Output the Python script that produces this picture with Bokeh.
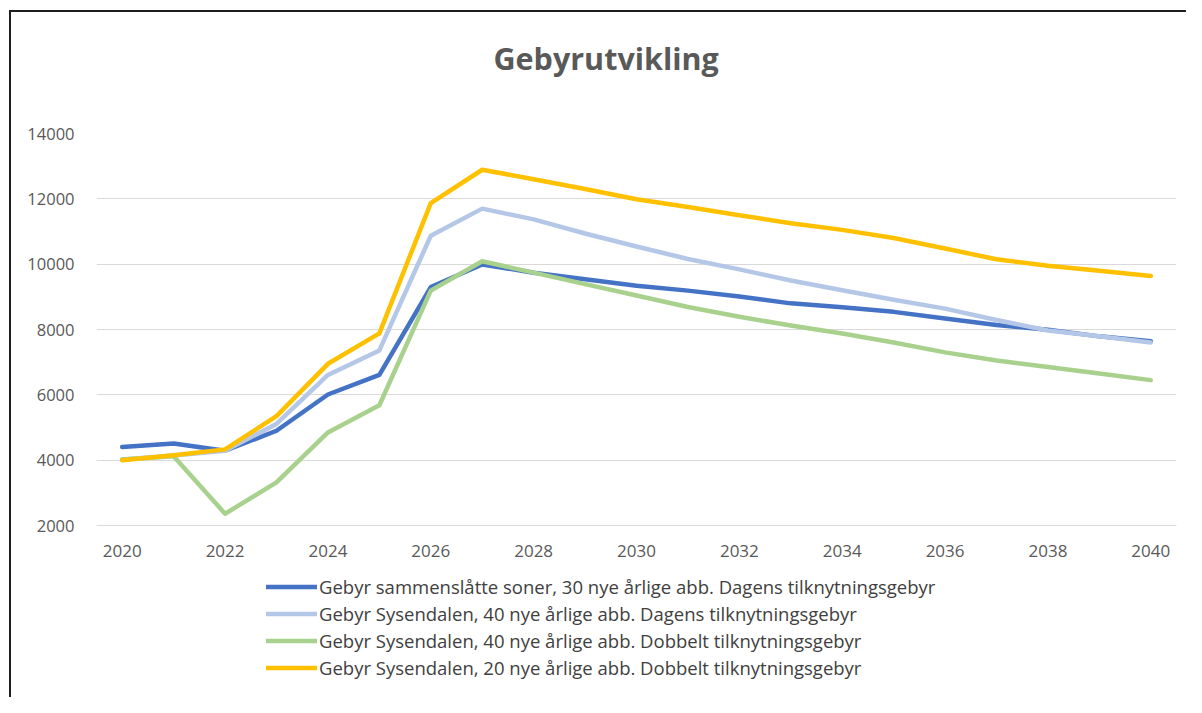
from bokeh.plotting import figure
from bokeh.models import Range1d, FixedTicker, Legend, LegendItem, Title
from bokeh.embed import file_html
from bokeh.resources import INLINE

years = list(range(2020, 2041))
series_names = [
    "Gebyr sammenslåtte soner, 30 nye årlige abb. Dagens tilknytningsgebyr",
    "Gebyr Sysendalen, 40 nye årlige abb. Dagens tilknytningsgebyr",
    "Gebyr Sysendalen, 40 nye årlige abb. Dobbelt tilknytningsgebyr",
    "Gebyr Sysendalen, 20 nye årlige abb. Dobbelt tilknytningsgebyr",
]
sammenslatte_30 = [4400, 4510, 4290, 4900, 6010, 6610, 9300, 9990, 9740, 9540, 9340,
                   9190, 9010, 8800, 8680, 8540, 8340, 8140, 7990, 7790, 7640]
sysendalen_40_dagens = [4020, 4140, 4290, 5110, 6610, 7360, 10870, 11700, 11370, 10940, 10540,
                        10160, 9840, 9500, 9200, 8910, 8640, 8290, 7970, 7790, 7600]
sysendalen_40_dobbelt = [4020, 4120, 2360, 3320, 4850, 5680, 9190, 10090, 9740, 9390, 9040,
                         8690, 8390, 8120, 7880, 7600, 7300, 7050, 6850, 6650, 6450]
sysendalen_20_dobbelt = [4000, 4150, 4330, 5350, 6950, 7880, 11870, 12890, 12600, 12300, 11985,
                         11750, 11500, 11250, 11050, 10800, 10480, 10150, 9950, 9800, 9640]
x_tick_years = list(range(2020, 2041, 2))
y_ticks = list(range(2000, 14001, 2000))

colors = ["#4472C4", "#B4C7E7", "#A9D18E", "#FFC000"]
all_series = [sammenslatte_30, sysendalen_40_dagens, sysendalen_40_dobbelt, sysendalen_20_dobbelt]

# layout (pixels): frame 96..1176 x 133..697; value 14000 at 133, 2000 at 525
W, H = 1186, 697
frame_top, y2000_px = 133, 525
px_per_unit = (y2000_px - frame_top) / 12000.0
y_bottom = 2000 - (H - y2000_px) / px_per_unit

p = figure(width=W, height=H, output_backend="svg", toolbar_location=None,
           x_range=Range1d(2019.5, 2040.5), y_range=Range1d(y_bottom, 14000),
           min_border_left=96, min_border_right=10, min_border_top=frame_top, min_border_bottom=0)
p.styles = {
    "background-color": "white",
    "background-image": "linear-gradient(#1e1e1e,#1e1e1e), linear-gradient(#1e1e1e,#1e1e1e)",
    "background-size": "100% 2px, 2px 100%",
    "background-position": "9px 10px, 9px 10px",
    "background-repeat": "no-repeat",
}
p.outline_line_color = None
p.background_fill_color = "white"
p.border_fill_color = None

spacer = Title(text=" ", text_font_size="1px", standoff=52)
title = Title(text="Gebyrutvikling", align="left", vertical_align="bottom", text_font="Open Sans",
              text_font_style="bold", text_font_size="30.5px", text_color="#595959",
              standoff=0, offset=397)
p.add_layout(spacer, "above")
p.add_layout(title, "above")

FONT = "Open Sans"
p.xaxis.ticker = FixedTicker(ticks=x_tick_years)
p.yaxis.ticker = FixedTicker(ticks=y_ticks)
p.xaxis.fixed_location = 2000
for ax in (p.xaxis[0], p.yaxis[0]):
    ax.major_label_text_font = FONT
    ax.major_label_text_color = "#595959"
    ax.major_tick_line_color = None
    ax.minor_tick_line_color = None
    ax.major_tick_out = 0
    ax.major_tick_in = 0
    ax.minor_tick_out = 0
    ax.minor_tick_in = 0
p.xaxis.major_label_text_font_size = "17px"
p.yaxis.major_label_text_font_size = "16.5px"
p.xaxis.axis_line_color = "#D9D9D9"
p.xaxis.major_label_standoff = 19
p.yaxis.axis_line_color = None
p.yaxis.major_label_standoff = 22
p.xgrid.visible = False
p.ygrid.grid_line_color = "#D9D9D9"
p.ygrid.grid_line_width = 1

items = []
for name, vals, col in zip(series_names, all_series, colors):
    r = p.line(years, vals, line_color=col, line_width=4.5, line_join="round", line_cap="round")
    items.append(LegendItem(label=name, renderers=[r]))

legend = Legend(items=items, location=(170, 17), orientation="vertical",
                label_text_font=FONT, label_text_font_size="18.5px", label_text_color="#404040",
                glyph_width=51, glyph_height=23, label_height=23, spacing=2, label_standoff=2,
                padding=0, margin=0, border_line_color=None, background_fill_alpha=0)
p.add_layout(legend, "center")

open("out.html", "w").write(file_html(p, INLINE))
